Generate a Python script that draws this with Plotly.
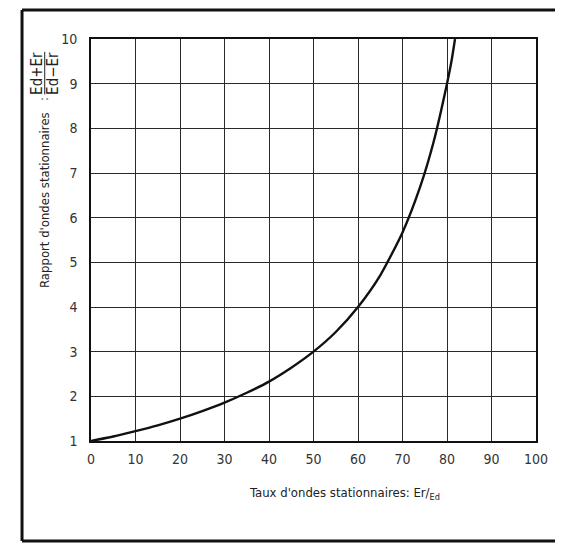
import plotly.graph_objects as go

# Values
ratio_pct = [0, 5, 10, 15, 20, 25, 30, 35, 40, 45, 50, 55, 60, 65, 70, 74, 77, 80, 81, 81.8]
vswr = [1.0, 1.1, 1.22, 1.35, 1.5, 1.67, 1.86, 2.08, 2.33, 2.64, 3.0, 3.44, 4.0, 4.71, 5.67, 6.7, 7.7, 9.0, 9.5, 10.0]
x_ticks = [0, 10, 20, 30, 40, 50, 60, 70, 80, 90, 100]
y_ticks = [1, 2, 3, 4, 5, 6, 7, 8, 9, 10]

FONT = "DejaVu Sans Condensed, DejaVu Sans, sans-serif"


def fnt(size, color="#222222"):
    return dict(family=FONT, size=size, color=color)


fig = go.Figure()
fig.add_trace(go.Scatter(
    x=ratio_pct, y=vswr, mode="lines",
    line=dict(color="#111111", width=2.4, shape="spline", smoothing=0.6),
    hoverinfo="skip", showlegend=False,
))

axis_common = dict(
    showgrid=True, gridcolor="#2a2a2a", gridwidth=1.3,
    showline=True, linecolor="#111111", linewidth=1.6, mirror=True,
    ticks="", zeroline=False,
    tickfont=fnt(14, "#333333"),
)

fig.update_xaxes(range=[0, 100], tickmode="array", tickvals=x_ticks,
                 ticktext=[str(v) for v in x_ticks], ticklabelstandoff=4, **axis_common)
fig.update_yaxes(range=[1, 10], tickmode="array", tickvals=y_ticks,
                 ticktext=[str(v) for v in y_ticks], ticklabelstandoff=9, **axis_common)

# Outer frame: left, top and bottom borders (no right border in the reference)
frame = dict(color="#111111", width=3)
fig.add_shape(type="line", xref="paper", yref="paper",
              x0=-0.155, x1=-0.155, y0=-0.249, y1=1.072, line=frame)
fig.add_shape(type="line", xref="paper", yref="paper",
              x0=-0.155, x1=1.25, y0=1.072, y1=1.072, line=frame)
fig.add_shape(type="line", xref="paper", yref="paper",
              x0=-0.155, x1=1.25, y0=-0.249, y1=-0.249, line=frame)

# X axis title
fig.add_annotation(xref="paper", yref="paper", x=0.57, y=-0.13,
                   text="Taux d'ondes stationnaires: Er/<sub>Ed</sub>",
                   showarrow=False, xanchor="center", yanchor="middle",
                   font=fnt(13))

# Y axis title
fig.add_annotation(xref="paper", yref="paper", x=-0.103, y=0.6,
                   text="Rapport d'ondes stationnaires",
                   textangle=-90, showarrow=False, xanchor="center", yanchor="middle",
                   font=fnt(13))
fig.add_annotation(xref="paper", yref="paper", x=-0.105, y=0.852,
                   text=":", textangle=-90, showarrow=False,
                   xanchor="center", yanchor="middle",
                   font=fnt(12))
fig.add_annotation(xref="paper", yref="paper", x=-0.122, y=0.915,
                   text="Ed+Er", textangle=-90, showarrow=False,
                   xanchor="center", yanchor="middle",
                   font=fnt(15))
fig.add_annotation(xref="paper", yref="paper", x=-0.086, y=0.915,
                   text="Ed\u2212Er", textangle=-90, showarrow=False,
                   xanchor="center", yanchor="middle",
                   font=fnt(15))
fig.add_shape(type="line", xref="paper", yref="paper",
              x0=-0.104, x1=-0.104, y0=0.862, y1=0.968,
              line=dict(color="#222222", width=1))

# Page body has an 8px default margin; shrink the figure to keep it in the window
fig.update_layout(
    width=555, height=536,
    margin=dict(l=83, r=27, t=31, b=103),
    paper_bgcolor="white", plot_bgcolor="white",
    showlegend=False,
)

fig.write_html("out.html")
